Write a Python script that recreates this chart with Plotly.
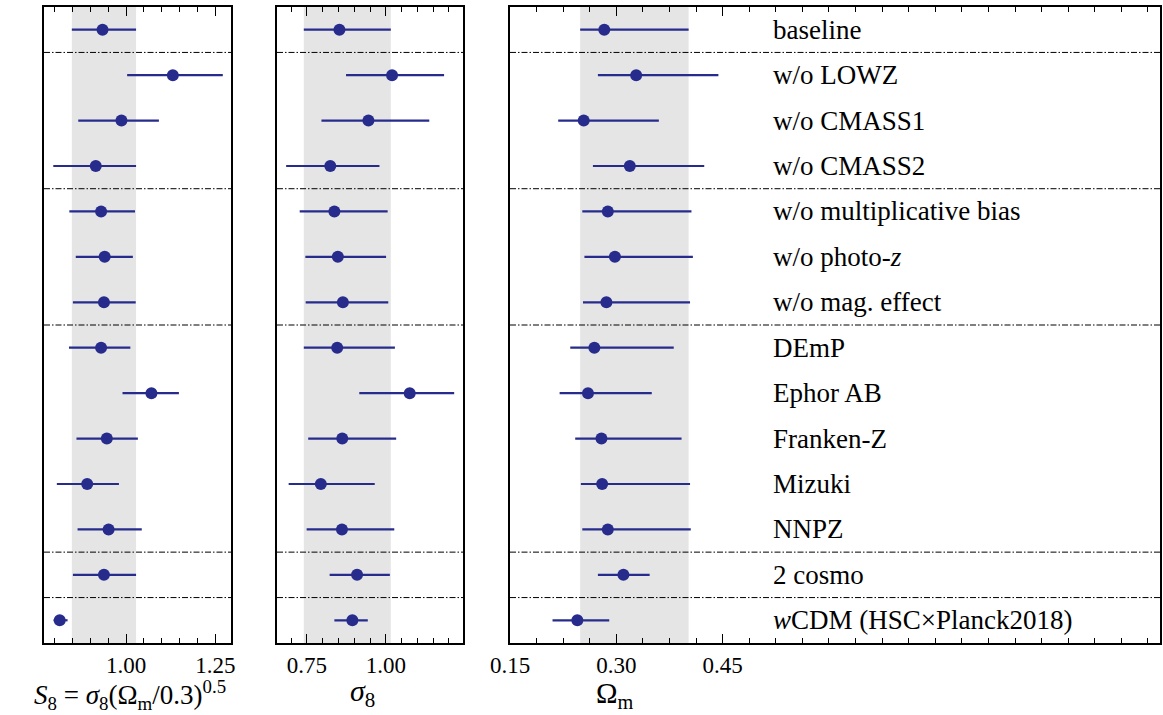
import plotly.graph_objects as go

# Analysis variants, top to bottom
labels = [
    "baseline", "w/o LOWZ", "w/o CMASS1", "w/o CMASS2",
    "w/o multiplicative bias", "w/o photo-<i>z</i>", "w/o mag. effect",
    "DEmP", "Ephor AB", "Franken-Z", "Mizuki", "NNPZ",
    "2 cosmo", "<i>w</i>CDM (HSC×Planck2018)",
]

# S8 = sigma8 (Omega_m/0.3)^0.5 : best fit, lower and upper 68% bounds
s8_mid = [0.934, 1.131, 0.987, 0.915, 0.930, 0.940, 0.938,
          0.930, 1.071, 0.946, 0.891, 0.951, 0.938, 0.814]
s8_lo = [0.848, 1.003, 0.866, 0.796, 0.841, 0.859, 0.851,
         0.840, 0.990, 0.861, 0.806, 0.864, 0.851, 0.797]
s8_hi = [1.028, 1.271, 1.092, 1.028, 1.025, 1.019, 1.027,
         1.012, 1.148, 1.033, 0.980, 1.044, 1.028, 0.836]

# sigma8
sig8_mid = [0.853, 1.020, 0.945, 0.824, 0.837, 0.848, 0.864,
            0.846, 1.076, 0.862, 0.794, 0.861, 0.909, 0.894]
sig8_lo = [0.740, 0.874, 0.796, 0.684, 0.727, 0.745, 0.746,
           0.740, 0.916, 0.754, 0.692, 0.749, 0.822, 0.837]
sig8_hi = [1.016, 1.185, 1.138, 0.980, 1.006, 1.001, 1.008,
           1.029, 1.217, 1.033, 0.965, 1.027, 1.013, 0.943]

# Omega_m
om_mid = [0.283, 0.328, 0.254, 0.319, 0.288, 0.298, 0.286,
          0.269, 0.260, 0.279, 0.280, 0.288, 0.310, 0.245]
om_lo = [0.249, 0.274, 0.218, 0.267, 0.252, 0.255, 0.253,
         0.235, 0.220, 0.242, 0.250, 0.252, 0.274, 0.210]
om_hi = [0.402, 0.444, 0.360, 0.424, 0.406, 0.408, 0.404,
         0.381, 0.350, 0.392, 0.404, 0.405, 0.347, 0.290]

# group boundaries (between rows)
separators = [0.5, 3.5, 6.5, 11.5, 12.5]

rows = list(range(len(labels)))
W, H = 1163, 715
navy = "#262b8c"
serif = "Liberation Serif, DejaVu Serif, serif"

panels = [
    dict(mid=s8_mid, lo=s8_lo, hi=s8_hi, px=(44, 231), rng=[0.770, 1.294],
         tickvals=[1.00, 1.25], ticktext=["1.00", "1.25"], tick0=1.0, minor=0.05),
    dict(mid=sig8_mid, lo=sig8_lo, hi=sig8_hi, px=(277, 463), rng=[0.655, 1.245],
         tickvals=[0.75, 1.00], ticktext=["0.75", "1.00"], tick0=0.75, minor=0.05),
    dict(mid=om_mid, lo=om_lo, hi=om_hi, px=(510, 1160), rng=[0.150, 1.067],
         tickvals=[0.15, 0.30, 0.45], ticktext=["0.15", "0.30", "0.45"], tick0=0.15, minor=0.0375),
]

y_top, y_bot = 7, 643
ydom = [1 - y_bot / H, 1 - y_top / H]

fig = go.Figure()
shapes = []
for i, p in enumerate(panels):
    n = "" if i == 0 else str(i + 1)
    xa, ya = "x" + n, "y" + n
    # baseline 68% band
    shapes.append(dict(type="rect", xref=xa, yref=ya + " domain",
                       x0=p["lo"][0], x1=p["hi"][0], y0=0, y1=1,
                       fillcolor="#e5e5e5", line_width=0, layer="below"))
    for s in separators:
        shapes.append(dict(type="line", xref=xa + " domain", yref=ya,
                           x0=0, x1=1, y0=s, y1=s,
                           line=dict(color="black", width=1, dash="6px,2px,1.5px,2px")))
    fig.add_trace(go.Scatter(
        x=p["mid"], y=rows, mode="markers", xaxis=xa, yaxis=ya,
        marker=dict(color=navy, size=12),
        error_x=dict(type="data", symmetric=False,
                     array=[h - m for h, m in zip(p["hi"], p["mid"])],
                     arrayminus=[m - l for m, l in zip(p["mid"], p["lo"])],
                     color=navy, thickness=2.2, width=0),
        showlegend=False, hoverinfo="skip"))
    axkey = "xaxis" + n
    aykey = "yaxis" + n
    fig.update_layout(**{
        axkey: dict(domain=[p["px"][0] / W, p["px"][1] / W], range=p["rng"],
                    anchor=ya, automargin=False, tickmode="array",
                    tickvals=p["tickvals"], ticktext=p["ticktext"],
                    ticks="inside", ticklen=9, tickwidth=1.2,
                    tickcolor="black", mirror="allticks", showline=True,
                    linecolor="black", linewidth=2, showgrid=False, zeroline=False,
                    tickfont=dict(family=serif, size=23, color="black"),
                    minor=dict(ticks="inside", ticklen=5, tickwidth=1, tickcolor="black",
                               dtick=p["minor"], tick0=p["tick0"], showgrid=False)),
        aykey: dict(domain=ydom, range=[13.5, -0.5], anchor=xa, automargin=False,
                    showticklabels=False, ticks="", showline=True, mirror=True,
                    linecolor="black", linewidth=2, showgrid=False, zeroline=False),
    })

annotations = []
for r, lab in zip(rows, labels):
    annotations.append(dict(x=0.518, y=r, xref="x3", yref="y3", text=lab,
                            showarrow=False, xanchor="left", yanchor="middle",
                            font=dict(family=serif, size=27, color="black")))

titles = [
    ("<i>S</i><sub>8</sub> = <i>σ</i><sub>8</sub>(Ω<sub>m</sub>/0.3)<sup>0.5</sup>", 130, 695, 27),
    ("<i>σ</i><sub>8</sub>", 362, 693, 30),
    ("Ω<sub>m</sub>", 615, 695, 29),
]
for t, xc, yc, fs in titles:
    annotations.append(dict(x=xc / W, y=1 - yc / H, xref="paper", yref="paper",
                            text=t, showarrow=False, xanchor="center", yanchor="middle",
                            font=dict(family=serif, size=fs, color="black")))

fig.update_layout(width=W, height=H, margin=dict(l=0, r=0, t=0, b=0),
                  paper_bgcolor="white", plot_bgcolor="white",
                  shapes=shapes, annotations=annotations)

fig.write_html("out.html")
